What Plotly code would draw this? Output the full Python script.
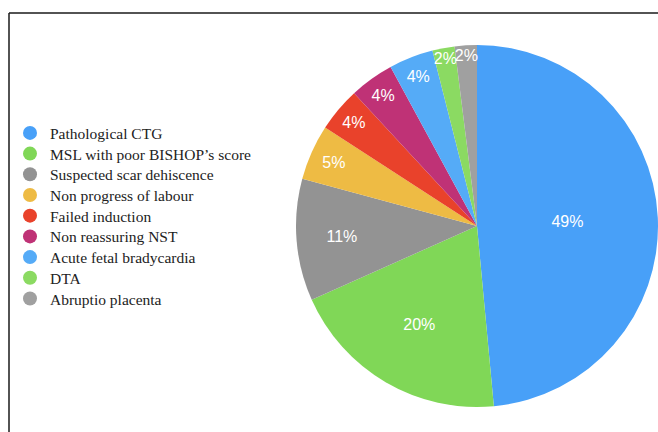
import plotly.graph_objects as go

labels = ["Pathological CTG", "MSL with poor BISHOP\u2019s score", "Suspected scar dehiscence",
          "Non progress of labour", "Failed induction", "Non reassuring NST",
          "Acute fetal bradycardia", "DTA", "Abruptio placenta"]
values = [49, 20, 11, 5, 4, 4, 4, 2, 2]
colors = ["#48A0F8", "#80D757", "#939393", "#EEBB44", "#E9422B", "#BF3276",
          "#55ABF7", "#8BDA62", "#A0A0A0"]

W, H = 658, 432
fig = go.Figure()

fig.add_trace(go.Pie(
    labels=labels, values=values, sort=False, direction="clockwise", rotation=0,
    marker=dict(colors=colors, line=dict(width=0)),
    texttemplate="%{value}%", textposition="inside", insidetextorientation="horizontal",
    textfont=dict(family="Liberation Sans, Arial, sans-serif", size=16, color="white"),
    showlegend=False, hoverinfo="label+value",
    domain=dict(x=[296 / W, 1.0], y=[25 / H, 387 / H]),
))

legend_font = dict(family="Liberation Serif, Times New Roman, serif", size=15.5, color="#222222")
layout_legends = {}
first_y, step = 133.3, 20.7
for i, (lab, col) in enumerate(zip(labels, colors)):
    key = "legend" if i == 0 else f"legend{i + 1}"
    fig.add_trace(go.Scatter(
        x=[None], y=[None], mode="markers", name=lab,
        marker=dict(color=col, size=14, symbol="circle"),
        showlegend=True, legend=key,
    ))
    layout_legends[key] = dict(
        x=10 / W, xanchor="left", y=1 - (first_y + i * step) / H, yanchor="middle",
        font=legend_font, bgcolor="rgba(0,0,0,0)", borderwidth=0, itemclick=False,
    )

fig.update_layout(
    width=W, height=H,
    margin=dict(l=0, r=0, t=0, b=0),
    paper_bgcolor="white", plot_bgcolor="white",
    xaxis=dict(visible=False), yaxis=dict(visible=False),
    uniformtext=dict(minsize=16, mode="show"),
    shapes=[
        dict(type="line", xref="paper", yref="paper", x0=9 / W, x1=1, y0=1 - 13 / H, y1=1 - 13 / H,
             line=dict(color="#1a1a1a", width=1.5)),
        dict(type="line", xref="paper", yref="paper", x0=9 / W, x1=9 / W, y0=1 - 13 / H, y1=0,
             line=dict(color="#1a1a1a", width=1.5)),
    ],
    **layout_legends,
)

fig.write_html("out.html", config={"displayModeBar": False},
               post_script="document.body.style.margin='0';")
